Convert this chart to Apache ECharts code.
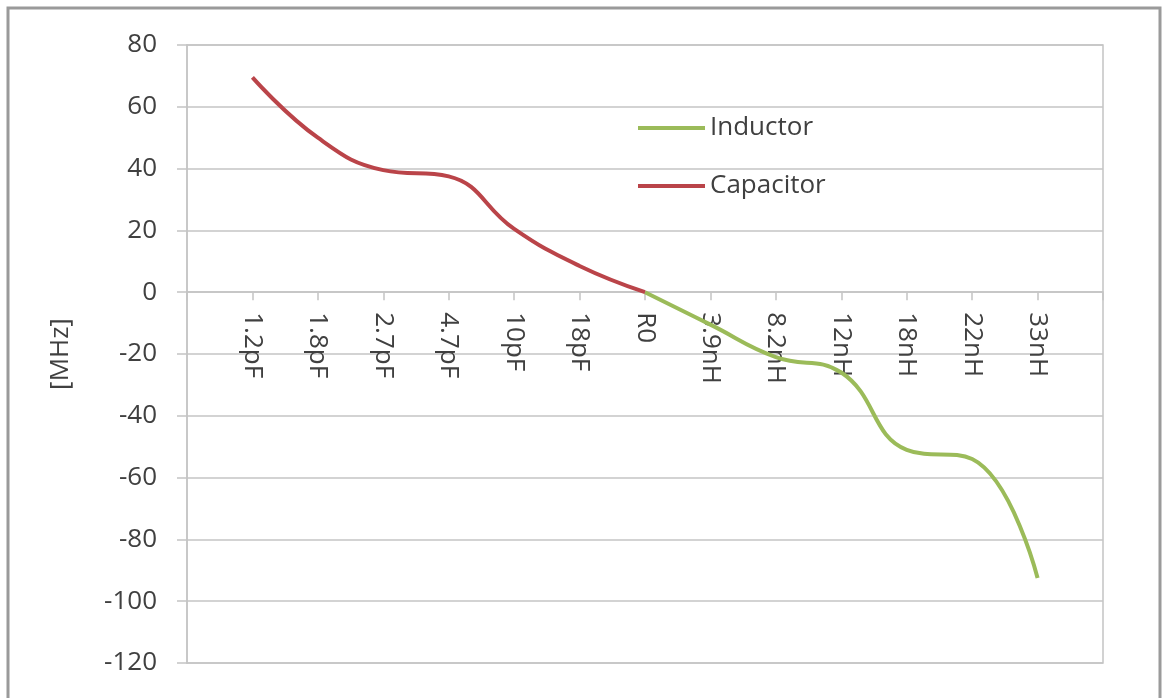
<!DOCTYPE html>
<html>
<head>
<meta charset="utf-8">
<script src="https://cdn.jsdelivr.net/npm/echarts@6/dist/echarts.min.js"></script>
<style>
  html, body { margin: 0; padding: 0; background: #ffffff; }
  #chart { width: 1163px; height: 698px; }
</style>
</head>
<body>
<div id="chart"></div>
<script>
// Category labels (x axis)
const categories = ['1.2pF', '1.8pF', '2.7pF', '4.7pF', '10pF', '18pF', 'R0',
                    '3.9nH', '8.2nH', '12nH', '18nH', '22nH', '33nH'];
// Capacitor values for 1.2pF .. R0
const capacitorLabels = ['1.2pF', '1.8pF', '2.7pF', '4.7pF', '10pF', '18pF', 'R0'];
const capacitorValues = [69.5, 50, 39.5, 37.5, 20.5, 8.5, 0];
// Inductor values for R0 .. 33nH
const inductorLabels = ['R0', '3.9nH', '8.2nH', '12nH', '18nH', '22nH', '33nH'];
const inductorValues = [0, -10.5, -21, -26, -51, -54, -92.5];
// Y axis ticks
const yMin = -120, yMax = 80, yStep = 20;

// Axis data padded with blank slots at both ends
const axisData = [''].concat(categories, ['']);
function buildSeries(labels, values) {
  const arr = axisData.map(() => null);
  labels.forEach((l, i) => { arr[axisData.indexOf(l)] = values[i]; });
  return arr;
}

const font = 'Open Sans';
const fs = 26;
const textColor = '#404040';
const gridColor = '#c4c4c4';

const gridTop = 45, gridBottom = 35, H = 698;
const plotH = H - gridTop - gridBottom;
// place category axis line at value 0 (axis offset from bottom edge)
const zeroOffset = -(plotH * (0 - yMin) / (yMax - yMin));

const chart = echarts.init(document.getElementById('chart'));
chart.setOption({
  backgroundColor: '#ffffff',
  animation: false,
  graphic: [{
    type: 'polyline',
    shape: { points: [[8, 700], [8, 8], [1160, 8], [1160, 700]] },
    style: { stroke: '#9a9a9a', lineWidth: 3, fill: null },
    silent: true
  }],
  grid: {
    left: 187, right: 60, top: gridTop, bottom: gridBottom,
    show: true, borderColor: gridColor, borderWidth: 1.5,
    containLabel: false, outerBoundsMode: 'none'
  },
  legend: {
    orient: 'vertical',
    left: 633, top: 110,
    itemWidth: 67, itemHeight: 4, itemGap: 32,
    icon: 'rect',
    data: ['Inductor', 'Capacitor'],
    textStyle: { fontFamily: font, fontSize: fs, color: textColor, lineHeight: 25 }
  },
  xAxis: {
    type: 'category',
    data: axisData,
    boundaryGap: false,
    position: 'bottom',
    offset: zeroOffset,
    axisLine: { onZero: false, lineStyle: { color: gridColor, width: 1.5 } },
    axisTick: { show: true, length: 8, lineStyle: { color: gridColor, width: 1.5 } },
    axisLabel: {
      rotate: -90, margin: 20, interval: 0,
      fontFamily: font, fontSize: fs, color: textColor
    },
    splitLine: { show: false }
  },
  yAxis: {
    type: 'value',
    min: yMin, max: yMax, interval: yStep,
    name: '[MHz]',
    nameLocation: 'middle',
    nameGap: 113,
    nameTextStyle: { fontFamily: font, fontSize: fs, color: textColor },
    axisLine: { show: true, lineStyle: { color: gridColor, width: 1.5 } },
    axisTick: { show: true, length: 10, lineStyle: { color: gridColor, width: 1.5 } },
    axisLabel: { margin: 30, fontFamily: font, fontSize: fs, color: textColor },
    splitLine: { show: true, lineStyle: { color: gridColor, width: 1.5 } }
  },
  series: [
    {
      name: 'Inductor', type: 'line', smooth: 0.45, symbol: 'none',
      connectNulls: false,
      data: buildSeries(inductorLabels, inductorValues),
      itemStyle: { color: '#9BBB59' },
      lineStyle: { color: '#9BBB59', width: 4 }
    },
    {
      name: 'Capacitor', type: 'line', smooth: 0.45, symbol: 'none',
      connectNulls: false,
      data: buildSeries(capacitorLabels, capacitorValues),
      itemStyle: { color: '#BA4449' },
      lineStyle: { color: '#BA4449', width: 4 }
    }
  ]
});
</script>
</body>
</html>
